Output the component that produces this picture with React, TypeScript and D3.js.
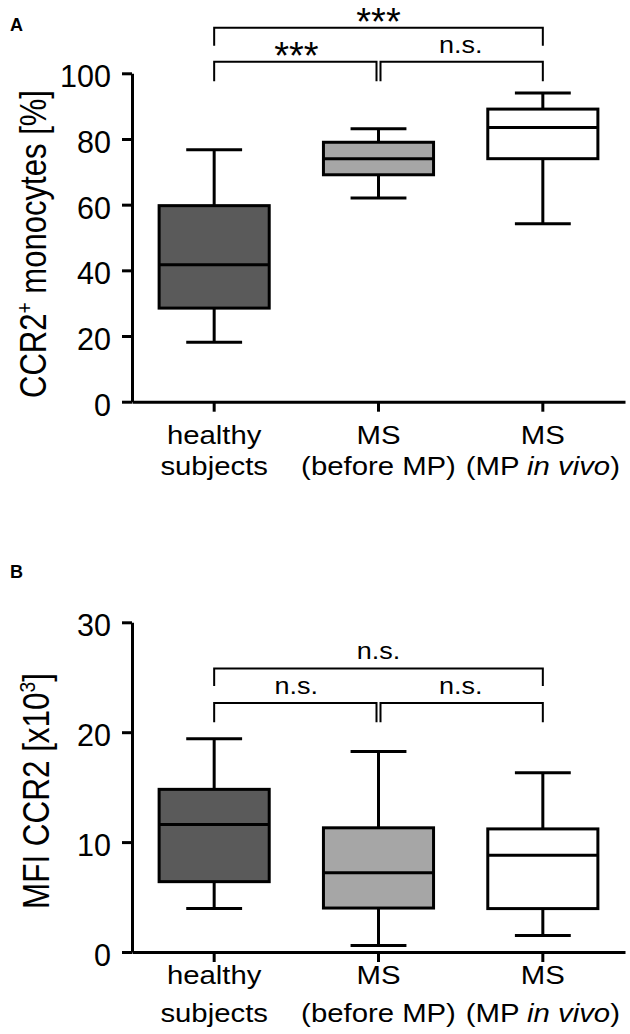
import React, { useEffect, useRef } from 'react';
import * as d3 from 'd3';

// groups shared by both panels
const groups = ['healthy', 'msBefore', 'msInVivo'];
const groupLine1 = ['healthy', 'MS', 'MS'];
const groupLine2: [string, boolean][][] = [
  [['subjects', false]],
  [['(before MP)', false]],
  [['(MP ', false], ['in vivo', true], [')', false]],
];
const groupFills = ['#5a5a5a', '#a6a6a6', '#ffffff'];

// comparisons drawn as brackets (same pairs in both panels)
const comparisons: [number, number][] = [[0, 1], [1, 2], [0, 2]];

// Panel A: CCR2+ monocytes [%]
const pctTicks = [0, 20, 40, 60, 80, 100];
const pctWhiskerLow = [18.1, 62.0, 54.2];
const pctQ1 = [28.5, 69.1, 74.0];
const pctMedian = [41.7, 74.0, 83.5];
const pctQ3 = [59.7, 79.0, 89.1];
const pctWhiskerHigh = [76.7, 83.1, 94.0];
const pctSignif = ['***', 'n.s.', '***'];
const pctBracketTop = [103.5, 103.5, 113.9];
const pctBracketLeg = [97.6, 97.6, 108.4];

// Panel B: MFI CCR2 [x10^3]
const mfiTicks = [0, 10, 20, 30];
const mfiWhiskerLow = [3.95, 0.6, 1.5];
const mfiQ1 = [6.4, 4.0, 3.95];
const mfiMedian = [11.6, 7.2, 8.8];
const mfiQ3 = [14.8, 11.3, 11.2];
const mfiWhiskerHigh = [19.4, 18.25, 16.3];
const mfiSignif = ['n.s.', 'n.s.', 'n.s.'];
const mfiBracketTop = [22.65, 22.65, 25.8];
const mfiBracketLeg = [20.9, 20.9, 24.2];

const FONT = '"Liberation Sans", Arial, Helvetica, sans-serif';
const STRETCH = 1.15; // text in the figure is slightly wide

interface PanelCfg {
  letter: string;
  letterY: number;
  domain: [number, number];
  yRange: [number, number];
  ticks: number[];
  low: number[];
  q1: number[];
  median: number[];
  q3: number[];
  high: number[];
  signif: string[];
  bracketTop: number[];
  bracketLeg: number[];
  yLabel: [string, boolean][]; // [text, superscript]
  yLabelPos: [number, number];
  yLabelLength: number;
  xLabelBaselines: [number, number];
}

function drawPanel(svg: d3.Selection<SVGSVGElement, unknown, null, undefined>, cfg: PanelCfg) {
  const x = d3.scaleBand<string>().domain(groups).range([132, 625]);
  const y = d3.scaleLinear().domain(cfg.domain).range(cfg.yRange);
  const cx = (i: number) => (x(groups[i]) || 0) + x.bandwidth() / 2;
  const boxW = x.bandwidth() * 0.67;
  const capW = x.bandwidth() * 0.34;

  const g = svg.append('g');

  // panel letter
  g.append('text')
    .attr('x', 10)
    .attr('y', cfg.letterY)
    .attr('font-family', FONT)
    .attr('font-weight', 'bold')
    .attr('font-size', 18)
    .text(cfg.letter);

  // y axis
  const yAxis = g.append('g')
    .attr('transform', `translate(${x.range()[0]},0)`)
    .call(d3.axisLeft(y).tickValues(cfg.ticks).tickFormat(d3.format('d')).tickSize(10).tickSizeOuter(0).tickPadding(11));
  yAxis.attr('font-size', null).attr('font-family', null);
  yAxis.selectAll('path, line').attr('stroke', '#000').attr('stroke-width', 3);
  yAxis.selectAll('text')
    .attr('dy', '0.44em')
    .attr('fill', '#000')
    .style('font-family', FONT)
    .style('font-size', '30.5px');

  // x axis
  const xAxis = g.append('g')
    .attr('transform', `translate(0,${y(cfg.domain[0])})`)
    .call(d3.axisBottom(x).tickSize(10).tickSizeOuter(0));
  xAxis.selectAll('text').remove();
  xAxis.selectAll('path, line').attr('stroke', '#000').attr('stroke-width', 3);

  // category labels
  groups.forEach((_, i) => {
    g.append('text')
      .attr('transform', `translate(${cx(i)},${cfg.xLabelBaselines[0]}) scale(${STRETCH},1)`)
      .attr('text-anchor', 'middle')
      .attr('font-family', FONT)
      .attr('font-size', 25.5)
      .text(groupLine1[i]);
    const t2 = g.append('text')
      .attr('transform', `translate(${cx(i)},${cfg.xLabelBaselines[1]}) scale(${STRETCH},1)`)
      .attr('text-anchor', 'middle')
      .attr('font-family', FONT)
      .attr('font-size', 25.5);
    groupLine2[i].forEach(([txt, it]) => {
      t2.append('tspan').attr('font-style', it ? 'italic' : 'normal').text(txt);
    });
  });

  // y label (rotated)
  const yl = g.append('text')
    .attr('transform', `translate(${cfg.yLabelPos[0]},${cfg.yLabelPos[1]}) scale(1.19,1) rotate(-90)`)
    .attr('text-anchor', 'middle')
    .attr('font-family', FONT)
    .attr('font-size', 31)
    .attr('textLength', cfg.yLabelLength)
    .attr('lengthAdjust', 'spacingAndGlyphs');
  cfg.yLabel.forEach(([txt, sup], k) => {
    const prevSup = k > 0 && cfg.yLabel[k - 1][1];
    yl.append('tspan')
      .attr('font-size', sup ? 19 : 31)
      .attr('dy', sup ? -12 : prevSup ? 12 : 0)
      .text(txt);
  });

  // boxes
  const boxes = g.append('g').selectAll('g').data(d3.range(groups.length)).enter().append('g');
  boxes.append('line')
    .attr('x1', i => cx(i)).attr('x2', i => cx(i))
    .attr('y1', i => y(cfg.high[i])).attr('y2', i => y(cfg.q3[i]));
  boxes.append('line')
    .attr('x1', i => cx(i)).attr('x2', i => cx(i))
    .attr('y1', i => y(cfg.q1[i])).attr('y2', i => y(cfg.low[i]));
  boxes.append('line')
    .attr('x1', i => cx(i) - capW / 2).attr('x2', i => cx(i) + capW / 2)
    .attr('y1', i => y(cfg.high[i])).attr('y2', i => y(cfg.high[i]));
  boxes.append('line')
    .attr('x1', i => cx(i) - capW / 2).attr('x2', i => cx(i) + capW / 2)
    .attr('y1', i => y(cfg.low[i])).attr('y2', i => y(cfg.low[i]));
  boxes.append('rect')
    .attr('x', i => cx(i) - boxW / 2)
    .attr('width', boxW)
    .attr('y', i => y(cfg.q3[i]))
    .attr('height', i => y(cfg.q1[i]) - y(cfg.q3[i]))
    .attr('fill', i => groupFills[i]);
  boxes.append('line')
    .attr('x1', i => cx(i) - boxW / 2).attr('x2', i => cx(i) + boxW / 2)
    .attr('y1', i => y(cfg.median[i])).attr('y2', i => y(cfg.median[i]));
  boxes.selectAll('line, rect').attr('stroke', '#000').attr('stroke-width', 3);

  // significance brackets
  const last = groups.length - 1;
  comparisons.forEach(([a, b], k) => {
    const xa = cx(a) + (a > 0 && a < last ? 2 : 0);
    const xb = cx(b) - (b > 0 && b < last ? 2 : 0);
    const top = y(cfg.bracketTop[k]);
    const leg = y(cfg.bracketLeg[k]);
    g.append('path')
      .attr('d', `M${xa},${leg}V${top}H${xb}V${leg}`)
      .attr('fill', 'none')
      .attr('stroke', '#000')
      .attr('stroke-width', 2);
    const mid = (cx(a) + cx(b)) / 2;
    const isStars = cfg.signif[k].startsWith('*');
    g.append('text')
      .attr('transform', isStars
        ? `translate(${mid},${top + 7})`
        : `translate(${mid},${top - 9}) scale(${STRETCH},1)`)
      .attr('text-anchor', 'middle')
      .attr('font-family', FONT)
      .attr('font-size', isStars ? 38 : 23.5)
      .text(cfg.signif[k]);
  });
}

export default function App() {
  const svgRef = useRef<SVGSVGElement>(null);

  useEffect(() => {
    if (!svgRef.current) return;
    const svg = d3.select(svgRef.current);
    svg.selectAll('*').remove();

    drawPanel(svg, {
      letter: 'A',
      letterY: 31,
      domain: [0, 100],
      yRange: [401.7, 73.3],
      ticks: pctTicks,
      low: pctWhiskerLow,
      q1: pctQ1,
      median: pctMedian,
      q3: pctQ3,
      high: pctWhiskerHigh,
      signif: pctSignif,
      bracketTop: pctBracketTop,
      bracketLeg: pctBracketLeg,
      yLabel: [['CCR2', false], ['+', true], [' monocytes [%]', false]],
      yLabelPos: [46, 244],
      yLabelLength: 308,
      xLabelBaselines: [443.5, 475],
    });

    drawPanel(svg, {
      letter: 'B',
      letterY: 578,
      domain: [0, 30],
      yRange: [952, 622.3],
      ticks: mfiTicks,
      low: mfiWhiskerLow,
      q1: mfiQ1,
      median: mfiMedian,
      q3: mfiQ3,
      high: mfiWhiskerHigh,
      signif: mfiSignif,
      bracketTop: mfiBracketTop,
      bracketLeg: mfiBracketLeg,
      yLabel: [['MFI CCR2 [x10', false], ['3', true], [']', false]],
      yLabelPos: [49, 791],
      yLabelLength: 236,
      xLabelBaselines: [983.5, 1021.5],
    });
  }, []);

  return (
    <svg
      ref={svgRef}
      width={630}
      height={1034}
      style={{ position: 'absolute', left: 0, top: 0, background: '#fff' }}
    />
  );
}
